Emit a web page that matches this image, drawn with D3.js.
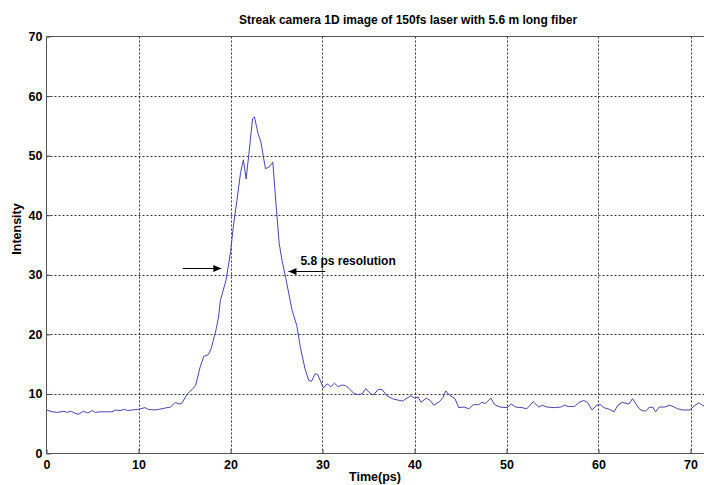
<!DOCTYPE html>
<html>
<head>
<meta charset="utf-8">
<script src="https://cdn.jsdelivr.net/npm/d3@7"></script>
<style>
  html, body { margin: 0; padding: 0; background: #fff; }
  svg { display: block; }
  text { font-family: Arial, "Liberation Sans", sans-serif; font-weight: bold; fill: #000; }
</style>
</head>
<body>
<svg id="chart" width="704" height="485"></svg>
<script>
const titleText = "Streak camera 1D image of 150fs laser with 5.6 m long fiber";
const xLabel = "Time(ps)";
const yLabel = "Intensity";
const annotationText = "5.8 ps resolution";
const xTicks = [0, 10, 20, 30, 40, 50, 60, 70];
const yTicks = [0, 10, 20, 30, 40, 50, 60, 70];

const time = [0, 0.6, 1.2, 1.9, 2.2, 2.7, 3.0, 3.5, 4.0, 4.5, 5.0, 5.3, 5.9, 6.6, 7.1, 7.5, 8.0, 8.5, 8.8, 9.3,
  9.9, 10.2, 10.7, 11.1, 11.7, 12.2, 12.8, 13.5, 14.0, 14.4, 14.7, 15.3, 15.8, 16.2, 16.7, 17.1, 17.6, 17.9, 18.4, 18.7,
  18.9, 19.5, 19.8, 20.0, 20.3, 20.7, 21.1, 21.4, 21.7, 22.0, 22.4, 22.6, 23.0, 23.3, 23.8, 24.2, 24.6, 25.0, 25.3, 25.6,
  26.0, 26.7, 27.2, 27.6, 28.1, 28.5, 28.8, 29.2, 29.5, 30.1, 30.5, 30.9, 31.3, 31.7, 32.1, 32.5, 32.9, 33.4, 33.8, 34.3,
  34.7, 35.1, 35.5, 36.1, 36.5, 37.0, 37.6, 38.1, 38.7, 39.2, 39.6, 40.0, 40.4, 40.7, 41.3, 41.7, 42.1, 42.7, 43.1, 43.4,
  43.8, 44.4, 44.8, 45.4, 45.9, 46.4, 47.0, 47.3, 47.7, 48.3, 48.7, 49.3, 50.1, 50.5, 51.0, 51.7, 52.2, 52.9, 53.5, 53.9,
  54.4, 55.2, 55.9, 56.3, 56.7, 57.4, 57.9, 58.4, 58.8, 59.3, 59.8, 60.2, 60.6, 61.2, 61.7, 62.1, 62.6, 63.3, 63.7, 64.3,
  64.6, 65.1, 65.5, 65.9, 66.2, 66.6, 67.2, 67.7, 68.1, 68.6, 69.2, 69.9, 70.5, 70.9, 71.3, 71.6, 72.0];
const intensity = [7.3, 7.0, 6.9, 7.1, 6.9, 7.1, 6.8, 6.6, 7.1, 6.8, 7.2, 6.9, 7.0, 7.0, 7.0, 7.3, 7.2, 7.4, 7.2, 7.3,
  7.4, 7.5, 7.7, 7.4, 7.3, 7.4, 7.6, 7.8, 8.6, 8.3, 8.4, 10.0, 10.7, 11.4, 14.5, 16.3, 16.6, 17.6, 20.6, 22.9,
  25.7, 29.0, 31.8, 33.8, 38.0, 42.5, 47.2, 49.3, 46.1, 50.3, 56.2, 56.5, 53.7, 52.3, 47.8, 48.1, 48.9, 40.8, 35.2, 32.4,
  29.5, 24.0, 21.5, 17.8, 14.2, 12.3, 12.1, 13.4, 13.2, 11.0, 11.7, 11.2, 11.8, 11.2, 11.5, 11.4, 10.9, 10.1, 9.9, 10.0,
  10.9, 10.2, 9.8, 10.8, 10.7, 9.7, 9.2, 9.0, 8.8, 9.3, 9.7, 9.3, 9.5, 8.6, 9.3, 8.9, 8.1, 8.7, 9.4, 10.5,
  9.8, 9.2, 7.7, 7.8, 7.5, 8.2, 8.2, 8.6, 8.4, 9.3, 8.2, 7.8, 7.7, 8.3, 7.8, 7.7, 7.5, 8.7, 7.8, 8.1,
  7.8, 7.7, 7.8, 8.1, 7.9, 7.9, 8.6, 8.9, 8.6, 7.3, 8.1, 8.2, 7.7, 7.4, 7.0, 8.1, 8.6, 8.3, 9.2, 7.8,
  7.3, 7.1, 7.7, 7.8, 7.0, 7.8, 7.8, 8.1, 7.9, 7.5, 7.3, 7.3, 8.1, 8.5, 8.1, 7.9, 7.6];

// annotation arrows, in data coordinates: [fromX, toX, y]
const arrowLeft = [14.8, 19.0, 31.2];
const arrowRight = [30.3, 26.3, 30.7];
const annotationPos = [27.6, 31.6];

const svg = d3.select("#chart");
const plotLeft = 46.5, plotTop = 36.5, plotBottom = 453.5;
const x = d3.scaleLinear().domain([0, 70]).range([plotLeft, 690.5]);
const y = d3.scaleLinear().domain([0, 70]).range([plotBottom, plotTop]);
const plotRight = x(78.5);

svg.append("defs").append("clipPath").attr("id", "clip")
  .append("rect").attr("x", plotLeft).attr("y", plotTop).attr("width", plotRight - plotLeft).attr("height", plotBottom - plotTop);

// grid
const grid = svg.append("g").attr("stroke", "#333").attr("stroke-width", 1).attr("stroke-dasharray", "2,2");
grid.selectAll(".gx").data(xTicks.slice(1)).join("line")
  .attr("x1", d => Math.round(x(d)) + 0.5).attr("x2", d => Math.round(x(d)) + 0.5)
  .attr("y1", plotTop).attr("y2", plotBottom);
grid.selectAll(".gy").data(yTicks.slice(1, -1)).join("line")
  .attr("y1", d => Math.round(y(d)) + 0.5).attr("y2", d => Math.round(y(d)) + 0.5)
  .attr("x1", plotLeft).attr("x2", plotRight);

// axes
const xAxis = d3.axisBottom(x).tickValues(xTicks).tickSize(-4).tickPadding(7).tickFormat(d3.format("d"));
const yAxis = d3.axisLeft(y).tickValues(yTicks).tickSize(-4).tickPadding(4).tickFormat(d3.format("d"));
const gx = svg.append("g").attr("transform", `translate(0,${plotBottom})`).call(xAxis);
const gy = svg.append("g").attr("transform", `translate(${plotLeft},0)`).call(yAxis);
[gx, gy].forEach(g => {
  g.select(".domain").remove();
  g.selectAll(".tick line").attr("stroke", "#444");
  g.selectAll(".tick text").style("font-size", "12.5px").style("font-weight", "bold").attr("fill", "#000");
});

// box
svg.append("line").attr("x1", plotLeft).attr("x2", plotRight).attr("y1", plotBottom).attr("y2", plotBottom).attr("stroke", "#555");
svg.append("line").attr("x1", plotLeft).attr("x2", plotRight).attr("y1", plotTop).attr("y2", plotTop).attr("stroke", "#555");
svg.append("line").attr("x1", plotLeft).attr("x2", plotLeft).attr("y1", plotTop).attr("y2", plotBottom).attr("stroke", "#555");

// data line
const line = d3.line().x(d => x(d[0])).y(d => y(d[1]));
svg.append("path").datum(d3.zip(time, intensity))
  .attr("clip-path", "url(#clip)")
  .attr("fill", "none").attr("stroke", "#4646aa").attr("stroke-width", 1)
  .attr("d", line);

// arrows
function arrow(a) {
  const x1 = x(a[0]), x2 = x(a[1]), yy = Math.round(y(a[2])) + 0.5;
  const dir = Math.sign(x2 - x1);
  svg.append("line").attr("x1", x1).attr("x2", x2).attr("y1", yy).attr("y2", yy)
    .attr("stroke", "#000").attr("stroke-width", 1);
  svg.append("path")
    .attr("d", `M${x2},${yy} L${x2 - dir * 8},${yy - 3.5} L${x2 - dir * 8},${yy + 3.5} Z`)
    .attr("fill", "#000");
}
arrow(arrowLeft);
arrow(arrowRight);

svg.append("text").attr("x", x(annotationPos[0])).attr("y", y(annotationPos[1]))
  .style("font-size", "12px").text(annotationText);

// title and labels
svg.append("text").attr("x", 408).attr("y", 24).attr("text-anchor", "middle")
  .style("font-size", "12px").text(titleText);
svg.append("text").attr("x", 375).attr("y", 481).attr("text-anchor", "middle")
  .style("font-size", "12.5px").text(xLabel);
svg.append("text").attr("transform", "translate(21,229) rotate(-90)").attr("text-anchor", "middle")
  .style("font-size", "12.5px").text(yLabel);
</script>
</body>
</html>
